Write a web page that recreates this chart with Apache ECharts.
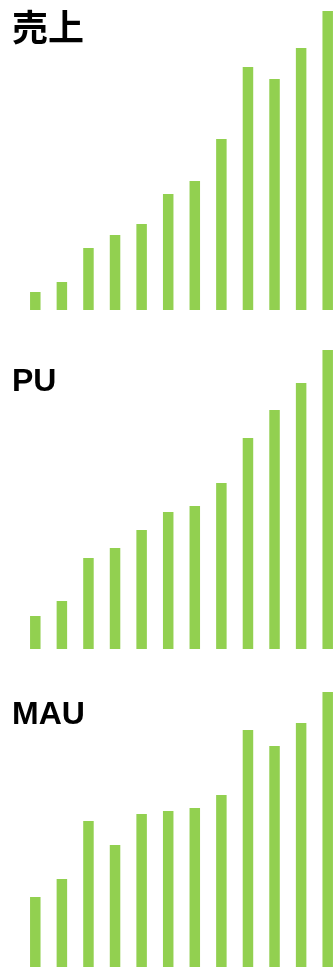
<!DOCTYPE html>
<html>
<head>
<meta charset="utf-8">
<script src="https://cdn.jsdelivr.net/npm/echarts@6/dist/echarts.min.js"></script>
<style>
  html, body { margin: 0; padding: 0; background: #fff; }
  #main { width: 335px; height: 967px; }
</style>
</head>
<body>
<div id="main"></div>
<script>
// 12ヶ月分のデータ
var months = ['1','2','3','4','5','6','7','8','9','10','11','12'];
var titles = ['売上', 'PU', 'MAU'];
var sales = [18, 28, 62, 75, 86, 116, 129, 171, 243, 231, 262, 299];
var pu = [33, 48, 91, 101, 119, 137, 143, 166, 211, 239, 266, 299];
var mau = [93, 111, 169, 145, 176, 179, 182, 195, 260, 244, 267, 298];

var green = '#92d050';
var font = "'Liberation Sans', 'Noto Sans CJK JP', sans-serif";

// 各パネルの位置
var panels = [
  { data: sales, top: 11, height: 299, titleTop: 13, titleSize: 36 },
  { data: pu, top: 350, height: 299, titleTop: 366, titleSize: 32 },
  { data: mau, top: 692, height: 298, titleTop: 699, titleSize: 32 }
];

var chart = echarts.init(document.getElementById('main'));

var option = {
  animation: false,
  title: [],
  grid: [],
  xAxis: [],
  yAxis: [],
  series: []
};

for (var i = 0; i < panels.length; i++) {
  var p = panels[i];
  option.title.push({
    text: titles[i],
    left: 12,
    top: p.titleTop,
    padding: 0,
    textStyle: { fontSize: p.titleSize, fontWeight: 'bold', color: '#000', fontFamily: font }
  });
  option.grid.push({
    left: 22, right: -6, top: p.top, bottom: 967 - p.top - p.height,
    outerBoundsMode: 'none'
  });
  option.xAxis.push({
    type: 'category',
    gridIndex: i,
    data: months,
    show: false
  });
  option.yAxis.push({
    type: 'value',
    gridIndex: i,
    min: 0,
    max: 'dataMax',
    show: false
  });
  option.series.push({
    type: 'bar',
    xAxisIndex: i,
    yAxisIndex: i,
    barWidth: 10.5,
    itemStyle: { color: green },
    data: p.data
  });
}

chart.setOption(option);
</script>
</body>
</html>
